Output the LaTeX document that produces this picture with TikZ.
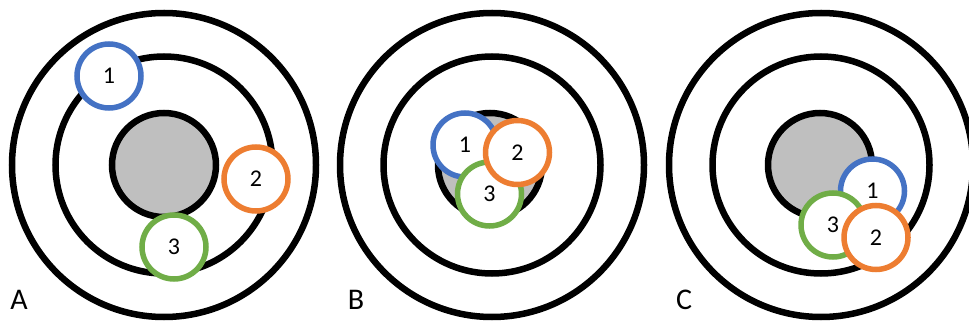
\documentclass[tikz,border=0pt]{standalone}
\usepackage{fontspec}
\setmainfont{Carlito}
\definecolor{mblue}{HTML}{4472C4}
\definecolor{morange}{HTML}{ED7D31}
\definecolor{mgreen}{HTML}{70AD47}
\definecolor{mgray}{HTML}{BFBFBF}
\begin{document}
\begin{tikzpicture}[x=1pt,y=-1pt,
  ring/.style={circle,draw=black,line width=6.5pt,inner sep=0pt,minimum size=#1},
  bull/.style={circle,draw=black,fill=mgray,line width=6.5pt,inner sep=0pt,minimum size=104pt},
  shot/.style={circle,draw=#1,fill=white,line width=5.5pt,inner sep=0pt,minimum size=64pt,font=\fontsize{24}{24}\selectfont},
  panel/.style={font=\fontsize{30}{30}\selectfont,inner sep=0pt}]
\useasboundingbox (0,0) rectangle (969,323);
\clip (0,0) rectangle (969,323);
% Target A
\node[ring=304pt] (Aout) at (164,165) {};
\node[ring=217pt] (Amid) at (164,165) {};
\node[bull] (Abull) at (164,165) {};
\node[shot=mblue] (A1) at (109,76) {1};
\node[shot=morange] (A2) at (256,179) {2};
\node[shot=mgreen] (A3) at (174,247) {3};
\node[panel] (Alab) at (19,300) {A};
% Target B
\node[ring=304pt] (Bout) at (492,165) {};
\node[ring=217pt] (Bmid) at (492,165) {};
\node[bull] (Bbull) at (490,165) {};
\node[shot=mblue] (B1) at (465,145) {1};
\node[shot=mgreen] (B3) at (489.5,194) {3};
\node[shot=morange] (B2) at (517.5,152.5) {2};
\node[panel] (Blab) at (356,300) {B};
% Target C
\node[ring=304pt] (Cout) at (821,165) {};
\node[ring=217pt] (Cmid) at (821,165) {};
\node[bull] (Cbull) at (820,165) {};
\node[shot=mblue] (C1) at (872.5,191) {1};
\node[shot=mgreen] (C3) at (833,225) {3};
\node[shot=morange] (C2) at (876,237.5) {2};
\node[panel] (Clab) at (684,300) {C};
\end{tikzpicture}
\end{document}
